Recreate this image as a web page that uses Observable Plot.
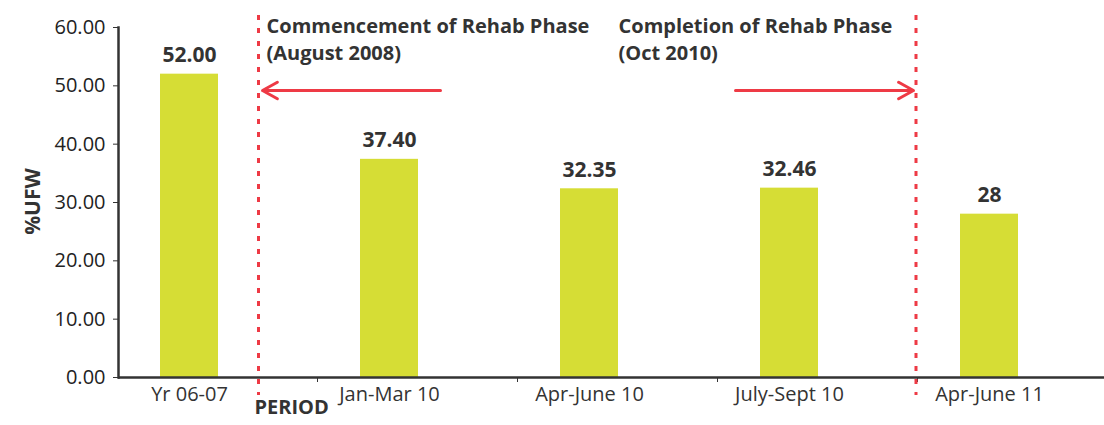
<!DOCTYPE html>
<html><head><meta charset="utf-8">
<script src="https://cdn.jsdelivr.net/npm/d3@7"></script>
<script src="https://cdn.jsdelivr.net/npm/@observablehq/plot@0.6"></script>
<style>body{margin:0;background:#fff}</style>
</head><body><div id="chart"></div>
<script>
const periods = ["Yr 06-07", "Jan-Mar 10", "Apr-June 10", "July-Sept 10", "Apr-June 11"];
const ufw = [52.00, 37.40, 32.35, 32.46, 28];
const valueLabels = ["52.00", "37.40", "32.35", "32.46", "28"];
const yTicks = [0, 10, 20, 30, 40, 50, 60];
const startNote = [{period: "Yr 06-07", label: "Commencement of Rehab Phase\n(August 2008)"}];
const endNote = [{period: "Apr-June 10", label: "Completion of Rehab Phase\n(Oct 2010)"}];
const startArrow = [{from: "Jan-Mar 10", to: "Yr 06-07", level: 49.2}];
const endArrow = [{from: "Apr-June 10", to: "July-Sept 10", level: 49.2}];

const data = periods.map((p, i) => ({period: p, value: ufw[i], label: valueLabels[i]}));
const RED = "#ee3a45";
const INK = "#333333";

const chart = Plot.plot({
  width: 1104, height: 425,
  marginLeft: 118, marginRight: 0, marginTop: 27, marginBottom: 48,
  style: {fontFamily: "'Open Sans', sans-serif", fontSize: "20px", color: INK, background: "#fff"},
  x: {domain: periods, range: [117, 1117], padding: 0},
  y: {domain: [0, 60]},
  marks: [
    Plot.barY(data, {x: "period", y: "value", fill: "#d6dd35", insetLeft: 43, insetRight: 99}),
    Plot.text(data, {x: "period", y: "value", text: "label", dx: -28, dy: -19, fontWeight: "bold", fontSize: 21, fill: INK}),
    Plot.ruleY([0], {stroke: INK, strokeWidth: 2.5}),
    Plot.axisY({ticks: yTicks, tickFormat: d3.format(".2f"), tickSize: 5, tickPadding: 8, label: null, stroke: INK, fill: "#222"}),
    Plot.frame({anchor: "left", stroke: INK, strokeWidth: 2.5}),
    Plot.axisX({tickSize: 5, fill: "none", dx: 100, label: null, stroke: INK}),
    Plot.axisX({tickSize: 0, tickPadding: 9, dx: -28, label: null, fill: INK}),
    Plot.ruleX(["Yr 06-07"], {dx: 41, stroke: RED, strokeWidth: 3, strokeDasharray: "5,8", insetTop: -12, insetBottom: -18}),
    Plot.ruleX(["July-Sept 10"], {dx: 98.5, stroke: RED, strokeWidth: 3, strokeDasharray: "5,8", insetTop: -12, insetBottom: -18}),
    Plot.text(startNote, {x: "period", text: "label", frameAnchor: "top", textAnchor: "start", lineAnchor: "top", lineHeight: 1.36, dx: 49, dy: -14, fontWeight: "bold", fill: INK}),
    Plot.text(endNote, {x: "period", text: "label", frameAnchor: "top", textAnchor: "start", lineAnchor: "top", lineHeight: 1.36, dx: 1, dy: -14, fontWeight: "bold", fill: INK}),
    Plot.arrow(startArrow, {x1: "from", x2: "to", y1: "level", y2: "level", dx: 23, insetEnd: 22, stroke: RED, strokeWidth: 3, headLength: 8.5, headAngle: 58}),
    Plot.arrow(endArrow, {x1: "from", x2: "to", y1: "level", y2: "level", dx: 118, insetEnd: 22, stroke: RED, strokeWidth: 3, headLength: 8.5, headAngle: 58}),
    Plot.text(["%UFW"], {frameAnchor: "left", textAnchor: "middle", rotate: -90, dx: -85, dy: -1, fontWeight: "bold", fontSize: 21, fill: INK}),
    Plot.text(["PERIOD"], {frameAnchor: "bottom-left", textAnchor: "start", dx: 136, dy: 36, fontWeight: "bold", fill: INK})
  ]
});
document.getElementById("chart").appendChild(chart);
</script>
</body></html>
